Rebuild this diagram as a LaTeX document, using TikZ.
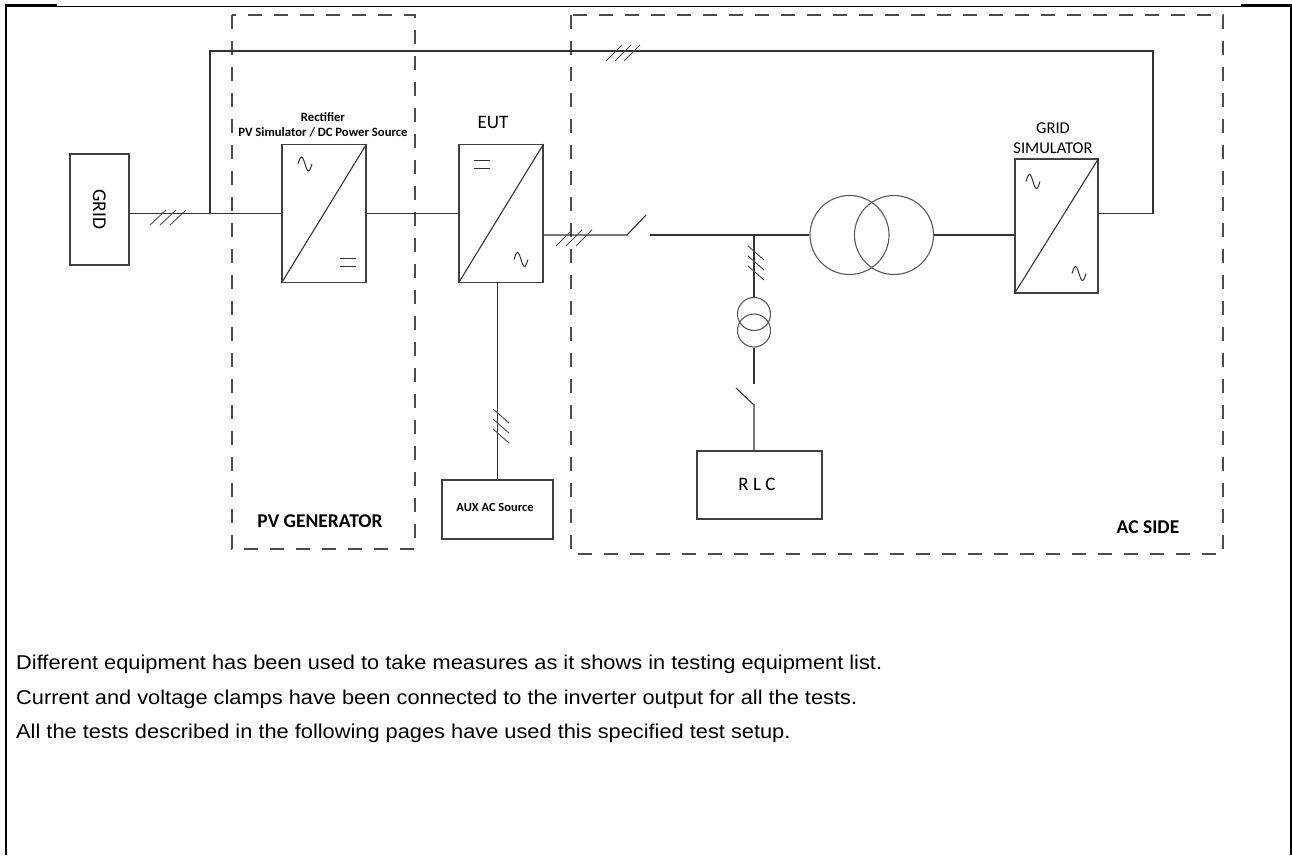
\documentclass[tikz,border=0pt]{standalone}
\usepackage{fontspec}
\setmainfont{Liberation Sans}
\newfontfamily\carlito{Carlito}
\newfontfamily\notefont[FakeStretch=1.09]{Liberation Sans}
\usetikzlibrary{calc}

\tikzset{
    frame/.style={draw=black, line width=1pt},
    wire/.style={draw=black!80, line width=1.1pt},
    box/.style={rectangle, draw=black!75, line width=1.1pt, inner sep=0pt},
    coil/.style={circle, draw=black!65, line width=1.1pt, inner sep=0pt},
    zone/.style={draw=black!70, line width=1.2pt, dash pattern=on 14pt off 12pt},
    hatch/.style={draw=black!70, line width=0.9pt},
    tag/.style={font=\carlito\bfseries\fontsize{12.7}{15}\selectfont, align=center, inner sep=0pt},
    title/.style={font=\carlito\fontsize{19}{21}\selectfont, align=center, inner sep=0pt},
    zonetag/.style={font=\carlito\bfseries\fontsize{19.5}{22}\selectfont, inner sep=0pt},
    note/.style={font=\notefont\fontsize{20}{23}\selectfont, anchor=base west, inner sep=0pt}
}

\newcommand{\acwave}[1]{\draw[wire, line width=1pt] #1 sin ++(3.5,-7) cos ++(3.5,7) sin ++(3.5,7) cos ++(3.5,-7);}

\begin{document}
\begin{tikzpicture}[x=1pt, y=-1pt]
    \useasboundingbox (0,0) rectangle (1292,855);

    \draw[frame] (6,855) -- (6,6) -- (1290,6) -- (1290,855);
    \draw[frame, line width=2pt] (6,855) -- (6,5) -- (57,5);
    \draw[frame, line width=2pt] (1241,5) -- (1291,5) -- (1291,855);

    \draw[zone] (232,15) rectangle (415,549);
    \draw[zone] (571,15) rectangle (1223,554);

    \begin{scope}[every node/.style={box}]
        \node[minimum width=59pt, minimum height=111pt] (grid) at (99.5,209.5) {};
        \node[minimum width=84pt, minimum height=138pt] (rect) at (324,213.5) {};
        \node[minimum width=84pt, minimum height=138pt] (eut) at (501,213.5) {};
        \node[minimum width=83pt, minimum height=134pt] (gsim) at (1056.5,226) {};
        \node[minimum width=111pt, minimum height=59pt] (aux) at (497.5,509.5) {};
        \node[minimum width=125pt, minimum height=68pt] (rlc) at (759.5,485) {};
    \end{scope}

    \begin{scope}[every node/.style={coil}]
        \node[minimum size=79pt] (tr1) at (849.5,235) {};
        \node[minimum size=79pt] (tr2) at (894,235) {};
        \node[minimum size=33pt] (st1) at (754,314) {};
        \node[minimum size=33pt] (st2) at (754,330.5) {};
    \end{scope}

    \coordinate (tap) at (210,213.5);
    \coordinate (loop) at (1153,51);
    \coordinate (sw1) at (627,235);
    \coordinate (sw1b) at (650,235);
    \coordinate (jn) at (754,235);
    \coordinate (sw2) at (754,384);
    \coordinate (sw2b) at (754,405);

    \begin{scope}[every edge/.style={wire}]
        \path [-] (grid.east |- rect.west) edge (rect.west);
        \path [-] (rect.east) edge (eut.west);
        \path [-] (sw1b) edge (tr1.west);
        \path [-] (tr2.east) edge (tr2.east -| gsim.west);
        \path [-] (jn) edge (st1.north);
        \path [-] (st2.south) edge (sw2);
        \path [-] (eut.south -| aux.north) edge (aux.north);
    \end{scope}
    \draw[wire] (tap) |- (loop) |- (gsim.east |- tap);
    \draw[wire] (eut.east |- sw1) -- (sw1) -- ++(19,-20);
    \draw[wire] (sw2b |- rlc.north) -- (sw2b) -- ++(-18,-17);

    \draw[wire] (rect.south west) -- (rect.north east);
    \draw[wire] (eut.south west) -- (eut.north east);
    \draw[wire] (gsim.south west) -- (gsim.north east);

    \acwave{(298,164)}
    \acwave{(514,259.5)}
    \acwave{(1026,181.5)}
    \acwave{(1072,273.5)}
    \draw[wire, line width=1pt] (340,258) -- (356,258) (340,266) -- (356,266);
    \draw[wire, line width=1pt] (474,160) -- (490,160) (474,168) -- (490,168);

    \draw[hatch] (150,225) -- ++(16,-15) (160,225) -- ++(16,-15) (170,225) -- ++(16,-15);
    \draw[hatch] (606,61) -- ++(16,-16) (615,61) -- ++(16,-16) (624,61) -- ++(16,-16);
    \draw[hatch] (556,246) -- ++(16,-16) (566,246) -- ++(16,-16) (576,246) -- ++(16,-16);
    \draw[hatch] (748,246) -- ++(16,14) (748,256) -- ++(16,14) (748,266) -- ++(16,14);
    \draw[hatch] (493,409) -- ++(16,14) (493,419) -- ++(16,14) (493,429) -- ++(16,14);

    \node[title, rotate=-90, font=\carlito\fontsize{19.5}{22}\selectfont] (gridtxt) at (grid) {GRID};
    \node[tag] (recttxt) at (323,124.5) {Rectifier\\PV Simulator / DC Power Source};
    \node[title] (euttxt) at (493,122) {EUT};
    \node[title, font=\carlito\fontsize{16.5}{20}\selectfont] (gsimtxt) at (1053,138) {GRID\\SIMULATOR};
    \node[tag, font=\carlito\bfseries\fontsize{12.5}{14}\selectfont] (auxtxt) at (495,507) {AUX AC Source};
    \node[title] (rlctxt) at (757,484) {R L C};
    \node[zonetag] (pvtxt) at (320,521) {PV GENERATOR};
    \node[zonetag] (actxt) at (1148,527) {AC SIDE};

    \node[note] (line1) at (16,669.5) {Different equipment has been used to take measures as it shows in testing equipment list.};
    \node[note] (line2) at (16,704) {Current and voltage clamps have been connected to the inverter output for all the tests.};
    \node[note] (line3) at (16,738.5) {All the tests described in the following pages have used this specified test setup.};
\end{tikzpicture}
\end{document}
